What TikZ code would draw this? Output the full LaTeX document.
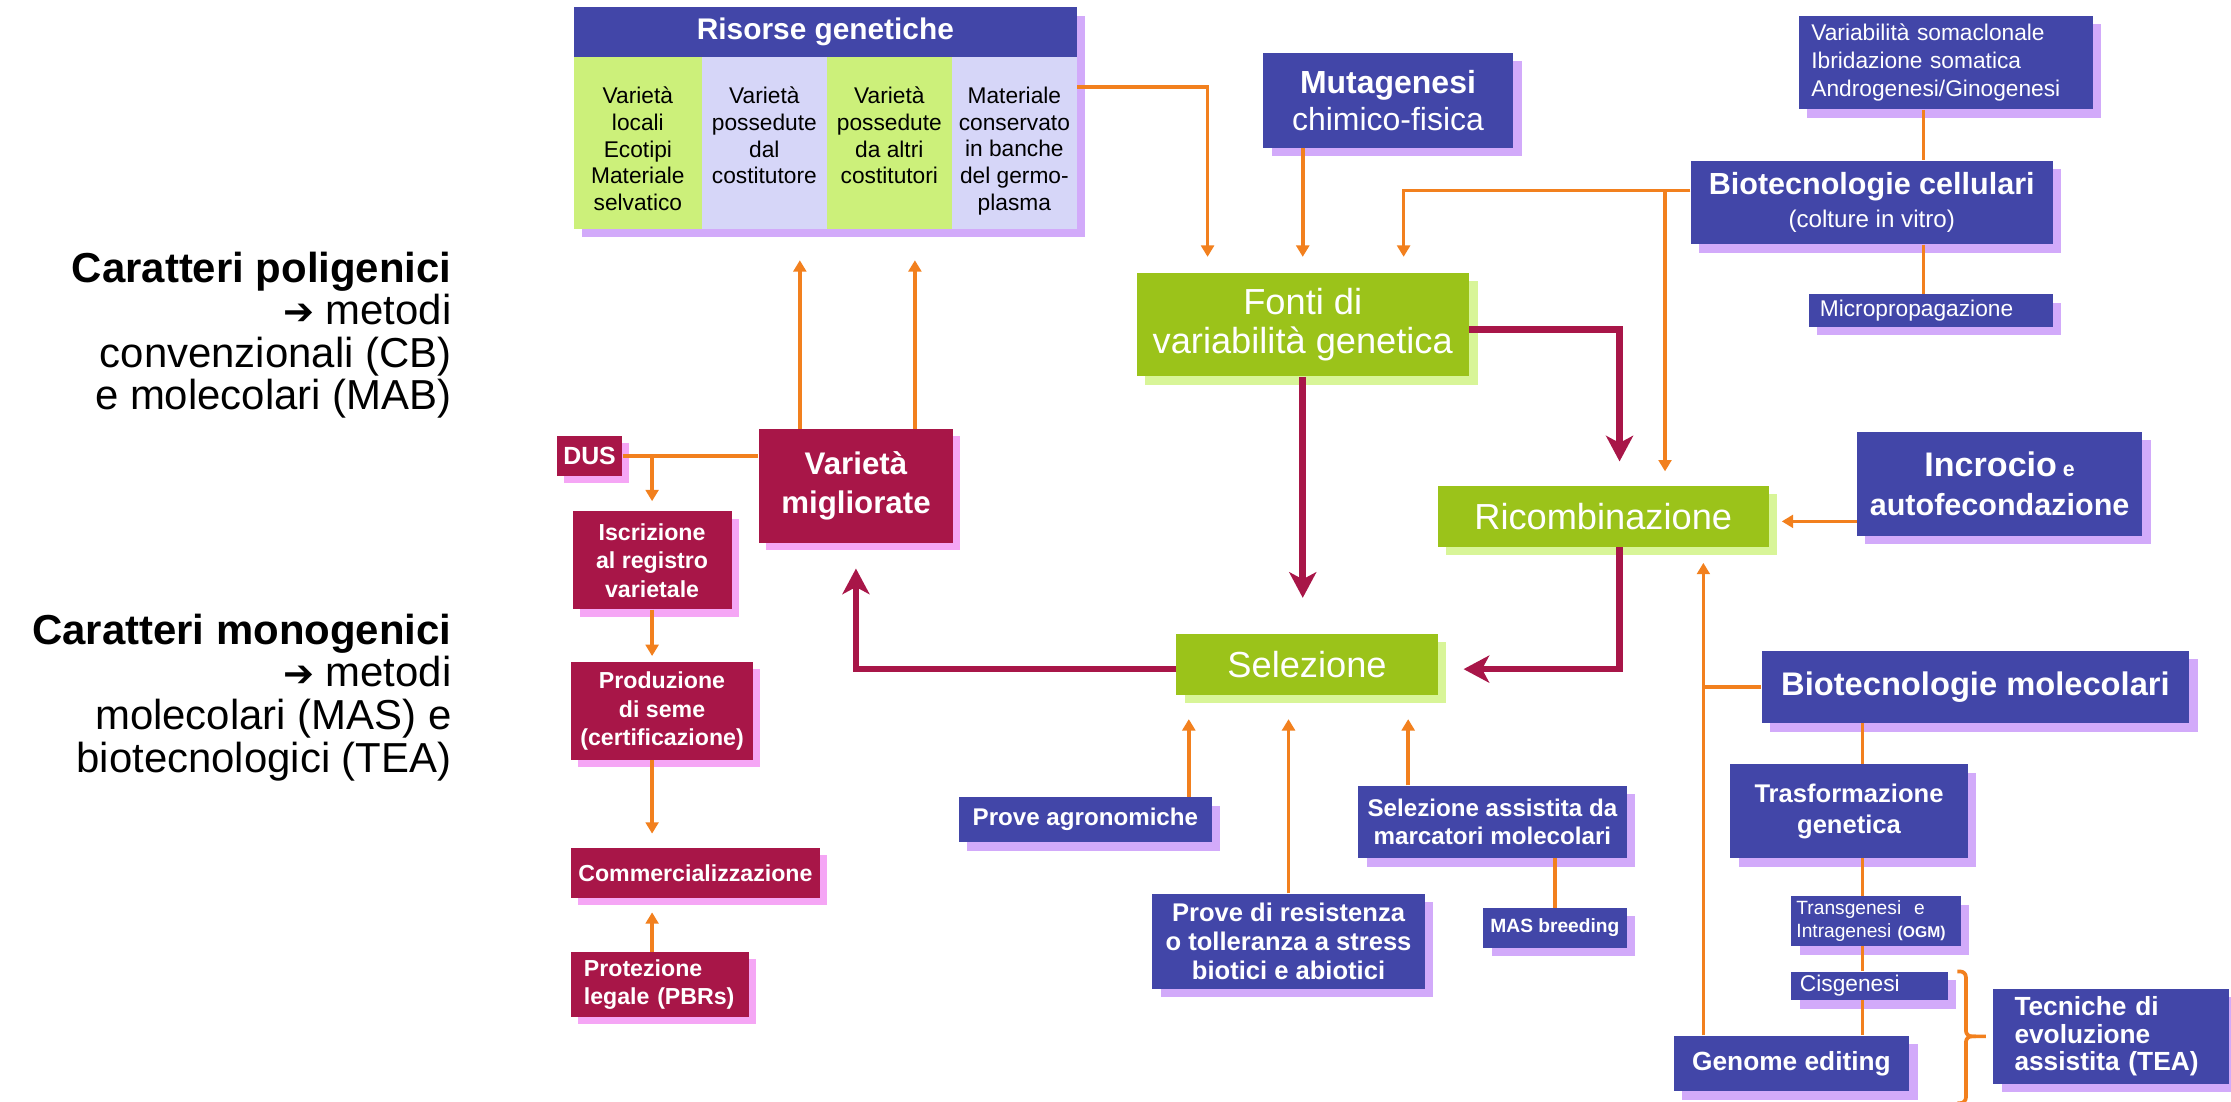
\documentclass[tikz,border=0pt]{standalone}
\usepackage{fontspec}
\setmainfont{Liberation Sans}
\newfontfamily\arrowfont{DejaVu Sans}
\usetikzlibrary{arrows.meta,shadows}

\definecolor{boxblue}{HTML}{4246A8}
\definecolor{blueshade}{HTML}{D2AAFA}
\definecolor{boxred}{HTML}{A81648}
\definecolor{redshade}{HTML}{F5A6F5}
\definecolor{boxgreen}{HTML}{9BC31A}
\definecolor{greenshade}{HTML}{D8F598}
\definecolor{colgreen}{HTML}{CCF07A}
\definecolor{collav}{HTML}{D6D6F8}
\definecolor{linkorange}{HTML}{F2801E}

\newcommand{\fsz}[2]{\fontsize{#1}{#2}\selectfont}

\tikzset{
    box/.style={inner sep=0pt, align=center, text=white},
    bluebox/.style={box, fill=boxblue, drop shadow={fill=blueshade, opacity=1, shadow xshift=6pt, shadow yshift=-6pt}},
    redbox/.style={box, fill=boxred, font=\fsz{16.3}{20}\bfseries, drop shadow={fill=redshade, opacity=1, shadow xshift=5pt, shadow yshift=-5pt}},
    greenbox/.style={box, fill=boxgreen, drop shadow={fill=greenshade, opacity=1, shadow xshift=6pt, shadow yshift=-6pt}},
    coltext/.style={anchor=north, inner sep=0pt, align=center, font=\fsz{16}{18.8}},
    sidetext/.style={anchor=north east, inner sep=0pt, align=right, font=\fsz{29.5}{30}},
    oline/.style={draw=linkorange, line width=2.6pt},
    oarrow/.style={oline, -{Triangle[length=8pt,width=9pt]}},
    rarrow/.style={draw=boxred, line width=4.7pt, -{Stealth[length=18pt,width=19pt,inset=5pt]}}
}

\begin{document}
\begin{tikzpicture}[x=1pt, y=-1pt]
    \useasboundingbox[fill=white] (0,0) rectangle (1570.4,775);

    \node[sidetext] (poli) at (318,177) {\textbf{Caratteri poligenici}\\{\arrowfont\bfseries\fsz{26}{30}➔} metodi\\convenzionali (CB)\\e molecolari (MAB)};
    \node[sidetext] (mono) at (318,432) {\textbf{Caratteri monogenici}\\{\arrowfont\bfseries\fsz{26}{30}➔} metodi\\molecolari (MAS) e\\biotecnologici (TEA)};

    \node[bluebox, minimum width=354pt, minimum height=156pt] (ris) at (581,83) {};
    \fill[colgreen] (404,40) rectangle (494,161);
    \fill[collav] (494,40) rectangle (582,161);
    \fill[colgreen] (582,40) rectangle (670,161);
    \fill[collav] (670,40) rectangle (758,161);
    \node[box, font=\fsz{21}{25}\bfseries] (rishead) at (581,22.5) {Risorse genetiche};
    \node[coltext] (col1) at (449,61) {Varietà\\locali\\Ecotipi\\Materiale\\selvatico};
    \node[coltext] (col2) at (538,61) {Varietà\\possedute\\dal\\costitutore};
    \node[coltext] (col3) at (626,61) {Varietà\\possedute\\da altri\\costitutori};
    \node[coltext] (col4) at (714,61) {Materiale\\conservato\\in banche\\del germo-\\plasma};

    \node[bluebox, minimum width=176pt, minimum height=67pt, font=\fsz{22.5}{26}] (mut) at (977,70.5) {\textbf{Mutagenesi}\\chimico-fisica};
    \node[bluebox, minimum width=207pt, minimum height=66pt, text width=189pt, align=left, font=\fsz{16}{20}] (somac) at (1369.5,44) {Variabilità somaclonale\\Ibridazione somatica\\Androgenesi/Ginogenesi};
    \node[bluebox, minimum width=255pt, minimum height=59pt, font=\fsz{17}{23}] (biocell) at (1317.5,142.5) {{\fsz{21.5}{23}\bfseries Biotecnologie cellulari}\\(colture in vitro)};
    \node[bluebox, minimum width=172pt, minimum height=23pt, text width=156pt, align=left, font=\fsz{16}{19}] (micro) at (1359,218.5) {Micropropagazione};

    \node[greenbox, minimum width=234pt, minimum height=73pt, font=\fsz{25.5}{28}] (fonti) at (917,228.5) {Fonti di\\variabilità genetica};
    \node[greenbox, minimum width=233pt, minimum height=43pt, font=\fsz{25.5}{30}] (ricomb) at (1128.5,363.5) {Ricombinazione};
    \node[greenbox, minimum width=184pt, minimum height=43pt, font=\fsz{25.5}{30}] (selez) at (920,467.5) {Selezione};

    \node[bluebox, minimum width=201pt, minimum height=73pt, font=\fsz{21.5}{27}\bfseries] (incrocio) at (1407.5,340.5) {{\fsz{24}{27}Incrocio}{\fsz{15}{27} e}\\autofecondazione};
    \node[bluebox, minimum width=301pt, minimum height=51pt, font=\fsz{23}{27}\bfseries] (biomol) at (1390.5,483.5) {Biotecnologie\ molecolari};
    \node[bluebox, minimum width=167pt, minimum height=66pt, font=\fsz{18}{22}\bfseries] (trasf) at (1301.5,571) {Trasformazione\\genetica};
    \node[bluebox, minimum width=119pt, minimum height=35pt, text width=112pt, align=left, font=\fsz{13.5}{16}] (transg) at (1320.5,648.5) {Transgenesi\ \ e\\Intragenesi {\fsz{11}{16}\bfseries(OGM)}};
    \node[bluebox, minimum width=110pt, minimum height=20pt, text width=98pt, align=left, font=\fsz{16}{18}] (cisg) at (1316,694) {Cisgenesi};
    \node[bluebox, minimum width=166pt, minimum height=39pt, font=\fsz{18.5}{22}\bfseries] (genome) at (1261,748.5) {Genome editing};
    \node[bluebox, minimum width=166pt, minimum height=67pt, text width=136pt, align=left, font=\fsz{18.5}{19.5}\bfseries] (tea) at (1486,729.5) {Tecniche di\\evoluzione\\assistita (TEA)};

    \node[bluebox, minimum width=178pt, minimum height=32pt, font=\fsz{17}{20}\bfseries] (agro) at (764,577) {Prove agronomiche};
    \node[bluebox, minimum width=192pt, minimum height=67pt, font=\fsz{18}{20.5}\bfseries] (resist) at (907,662.5) {Prove di resistenza\\o tolleranza a stress\\biotici e abiotici};
    \node[bluebox, minimum width=189pt, minimum height=51pt, font=\fsz{17}{20}\bfseries] (selass) at (1050.5,578.5) {Selezione assistita da\\marcatori molecolari};
    \node[bluebox, minimum width=101pt, minimum height=28pt, font=\fsz{13.5}{16}\bfseries] (mas) at (1094.5,653) {MAS breeding};

    \node[redbox, minimum width=46pt, minimum height=28pt, font=\fsz{17.5}{20}\bfseries] (dus) at (415,321) {DUS};
    \node[redbox, minimum width=137pt, minimum height=80pt, font=\fsz{22}{27}\bfseries] (varmig) at (602.5,342) {Varietà\\migliorate};
    \node[redbox, minimum width=112pt, minimum height=69pt] (iscr) at (459,394.5) {Iscrizione\\al registro\\varietale};
    \node[redbox, minimum width=128pt, minimum height=69pt] (prod) at (466,500.5) {Produzione\\di seme\\(certificazione)};
    \node[redbox, minimum width=175pt, minimum height=35pt] (comm) at (489.5,614.5) {Commercializzazione};
    \node[redbox, minimum width=125pt, minimum height=46pt, text width=107pt, align=left] (prot) at (464.5,693) {Protezione\\legale (PBRs)};

    \coordinate (cellbus) at ([yshift=8.5pt]biocell.west);
    \coordinate (cellx) at ([xshift=36.5pt]biocell.north);
    \coordinate (ricjoin) at ([xshift=43.5pt]ricomb.north);
    \coordinate (genbus) at ([xshift=-62pt]genome.north);
    \coordinate (molx) at ([xshift=9.5pt]trasf.north);

    \draw[oarrow, shorten >=11pt] ([yshift=22pt]ris.east) -| ([xshift=-67pt]fonti.north);
    \draw[oarrow, shorten >=11pt] (mut.south -| fonti.north) -- (fonti.north);
    \draw[oarrow, shorten >=11pt] (cellbus) -| ([xshift=71pt]fonti.north);
    \draw[oarrow, shorten >=10pt] (cellbus -| ricjoin) -- (ricjoin);
    \draw[oline] (cellx |- somac.south) -- (cellx);
    \draw[oline] (cellx |- biocell.south) -- (cellx |- micro.north);

    \draw[oarrow, shorten >=9pt] ([yshift=-26.5pt]incrocio.west) -- ([yshift=-26.5pt]incrocio.west -| ricomb.east);
    \draw[oarrow, shorten >=11pt] (genbus) -- (genbus |- ricomb.south);
    \draw[oline] (genbus |- biomol.west) -- (biomol.west);
    \draw[oline] (molx |- biomol.south) -- (molx);
    \draw[oline] (molx |- trasf.south) -- (molx |- transg.north);
    \draw[oline] (molx |- transg.south) -- (molx |- cisg.north);
    \draw[oline] (molx |- cisg.south) -- (molx |- genome.north);
    \draw[oline, rounded corners=4pt] ([xshift=-25pt]tea.west |- cisg.north) -- ([xshift=-19pt]tea.west |- cisg.north) -- ([xshift=-19pt]tea.west) -- ([xshift=-5pt]tea.west);
    \draw[oline, rounded corners=4pt] ([xshift=-12pt]tea.west) -- ([xshift=-19pt]tea.west) -- ([xshift=-19pt, yshift=-47pt]tea.west) -- ([xshift=-25pt, yshift=-47pt]tea.west);

    \draw[oarrow, shorten >=17pt] ([xshift=9pt]selez.south west |- agro.north) -- ([xshift=9pt]selez.south west);
    \draw[oarrow, shorten >=17pt] (resist.north) -- (resist.north |- selez.south);
    \draw[oarrow, shorten >=17pt] ([xshift=-21pt]selez.south east |- selass.north) -- ([xshift=-21pt]selez.south east);
    \draw[oline] (mas.north |- selass.south) -- (mas.north);

    \draw[oarrow, shorten >=22pt] ([xshift=-39.5pt]varmig.north) -- ([xshift=-39.5pt]varmig.north |- ris.south);
    \draw[oarrow, shorten >=22pt] ([xshift=41.5pt]varmig.north) -- ([xshift=41.5pt]varmig.north |- ris.south);
    \draw[oline] (dus.east) -- (dus.east -| varmig.west);
    \draw[oarrow, shorten >=7pt] (dus.east -| iscr.north) -- (iscr.north);
    \draw[oarrow, shorten >=4pt] (iscr.south) -- (iscr.south |- prod.north);
    \draw[oarrow, shorten >=10pt] (iscr.south |- prod.south) -- (iscr.south |- comm.north);
    \draw[oarrow, shorten >=10pt] (iscr.south |- prot.north) -- (iscr.south |- comm.south);

    \draw[rarrow, shorten >=25pt] (fonti.south) -- (fonti.south |- selez.north);
    \draw[rarrow, shorten >=17pt] ([yshift=-3.5pt]fonti.east) -| ([xshift=11.5pt]ricomb.north);
    \draw[rarrow, shorten >=18pt] ([xshift=11.5pt]ricomb.south) |- ([yshift=-3.5pt]selez.east);
    \draw[rarrow, shorten >=18pt] ([yshift=-3.5pt]selez.west) -| (varmig.south);
\end{tikzpicture}
\end{document}
